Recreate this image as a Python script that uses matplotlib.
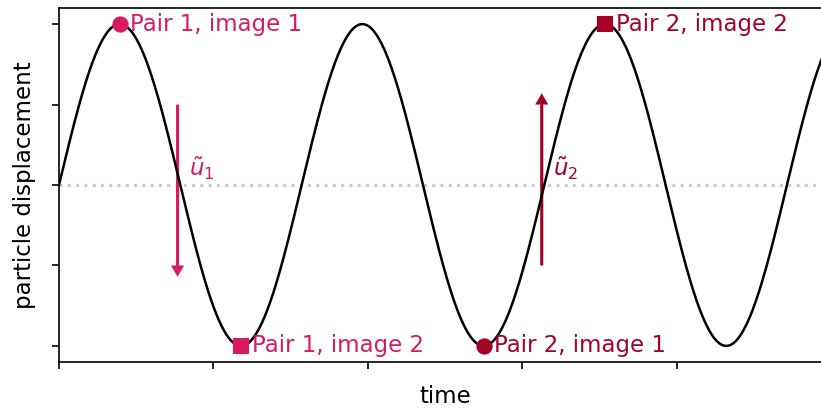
import numpy as np
import matplotlib
matplotlib.use("Agg")
import matplotlib.pyplot as plt

# wave
time = np.linspace(0, 20, 1000)
displacement = np.sin(time)

# image pairs: (time, displacement) of each exposure
pair1_t = [np.pi / 2, 3 * np.pi / 2]
pair1_u = [1.0, -1.0]
pair2_t = [7 * np.pi / 2, 9 * np.pi / 2]
pair2_u = [-1.0, 1.0]
pair1_labels = ["Pair 1, image 1", "Pair 1, image 2"]
pair2_labels = ["Pair 2, image 1", "Pair 2, image 2"]

# velocity arrows: x position, start, direction
arrow_t = [3.07, 12.5]
arrow_start = [0.5, -0.5]
arrow_dy = [-1.0, 1.0]
arrow_labels = [r"$\tilde{u}_1$", r"$\tilde{u}_2$"]

c1 = "#D81B60"
c2 = "#A50026"

plt.rcParams["font.size"] = 11

DPI = 150
fig = plt.figure(figsize=(821 / DPI, 412 / DPI), dpi=DPI)
ax = fig.add_axes([59 / 821, 50 / 412, 772.4 / 821, 354 / 412])

ax.axhline(0, color="0.8", ls=":", lw=1.5, zorder=0)
ax.plot(time, displacement, color="k", lw=1.2)

for ts, us, labels, col in [(pair1_t, pair1_u, pair1_labels, c1),
                            (pair2_t, pair2_u, pair2_labels, c2)]:
    ax.plot(ts[0], us[0], "o", color=col, ms=6.8)
    ax.plot(ts[1], us[1], "s", color=col, ms=6.3)
    for t, u, lab in zip(ts, us, labels):
        ax.annotate(lab, (t, u), xytext=(5.2, 0), textcoords="offset points",
                    ha="left", va="center", color=col)

for t, y0, dy, lab, col in zip(arrow_t, arrow_start, arrow_dy, arrow_labels, [c1, c2]):
    ax.arrow(t, y0, 0, dy, width=0.08, head_width=0.34, head_length=0.07,
             color=col, lw=0)
    ax.text(t + 0.3, 0.1, lab, color=col, ha="left", va="center")

ax.set_xlim(0, 20)
ax.set_ylim(-1.1, 1.1)
ax.set_xticks([0, 4, 8, 12, 16])
ax.set_yticks([-1, -0.5, 0, 0.5, 1])
ax.set_xticklabels([])
ax.set_yticklabels([])
ax.set_xlabel("time")
ax.set_ylabel("particle displacement")

fig.savefig("out.png", dpi=DPI)
